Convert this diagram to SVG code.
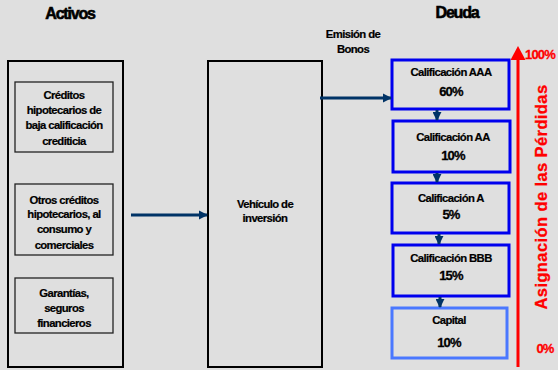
<svg xmlns="http://www.w3.org/2000/svg" width="558" height="370" viewBox="0 0 558 370">
<defs>
<marker id="ah" viewBox="0 0 10 10" refX="9" refY="5" markerWidth="3" markerHeight="3.3" orient="auto" markerUnits="strokeWidth">
<path d="M0,0 L10,5 L0,10 z" fill="#003366"/>
</marker>
<marker id="ahs" viewBox="0 0 10 10" refX="9" refY="5" markerWidth="3" markerHeight="3" orient="auto" markerUnits="strokeWidth">
<path d="M0,0 L10,5 L0,10 z" fill="#003366"/>
</marker>
</defs>
<style>
.t{font-family:"Liberation Sans",Arial,sans-serif;font-weight:bold;fill:#000;text-anchor:middle;letter-spacing:-0.6px;stroke:#000;stroke-width:0.2px}
.s{font-size:11.3px}
.h{font-size:16px;letter-spacing:-1.2px;stroke-width:0.6px}
.p{font-size:13px;letter-spacing:-0.8px;stroke-width:0.3px}
.box{fill:none;stroke:#000;stroke-width:2}
.ibox{fill:none;stroke:#222;stroke-width:1.3}
.tr{fill:none;stroke:#0000ee;stroke-width:3}
.cap{fill:none;stroke:#4a78ff;stroke-width:3}
.con{stroke:#003366;stroke-width:3;fill:none}
.sm{stroke:#003366;stroke-width:3;fill:none}
.red{font-family:"Liberation Sans",Arial,sans-serif;font-weight:bold;fill:#ff0000;stroke:#ff0000;stroke-width:0.3px;text-anchor:middle}
</style>
<rect width="558" height="370" fill="#dfdfdf"/>

<text class="t h" x="70" y="19">Activos</text>
<text class="t h" x="457" y="18">Deuda</text>

<g id="activos">
<rect class="box" x="8" y="61" width="115" height="306"/>
</g>
<g id="creditos-baja">
<rect class="ibox" x="15" y="82" width="98" height="70"/>
<text class="t s"><tspan x="64" y="99">Créditos</tspan><tspan x="64" y="114">hipotecarios de</tspan><tspan x="64" y="129">baja calificación</tspan><tspan x="64" y="145">crediticia</tspan></text>
</g>
<g id="otros-creditos">
<rect class="ibox" x="15" y="184" width="98" height="71"/>
<text class="t s"><tspan x="64" y="204">Otros créditos</tspan><tspan x="64" y="218">hipotecarios, al</tspan><tspan x="64" y="233">consumo y</tspan><tspan x="64" y="249">comerciales</tspan></text>
</g>
<g id="garantias">
<rect class="ibox" x="15" y="278" width="98" height="55"/>
<text class="t s"><tspan x="64" y="297">Garantías,</tspan><tspan x="64" y="312">seguros</tspan><tspan x="64" y="327">financieros</tspan></text>
</g>

<g id="vehiculo">
<rect class="box" x="208" y="61" width="114" height="306"/>
<text class="t s"><tspan x="265" y="208">Vehículo de</tspan><tspan x="265" y="222">inversión</tspan></text>
</g>

<text class="t s" x="353" y="38">Emisión de</text>
<text class="t s" x="353" y="53">Bonos</text>

<g id="aaa">
<rect class="tr" x="392" y="60" width="117" height="49"/>
<text class="t s" x="451" y="76">Calificación AAA</text>
<text class="t p" x="451" y="96">60%</text>
</g>
<g id="aa">
<rect class="tr" x="393" y="121" width="117" height="51"/>
<text class="t s" x="453" y="141">Calificación AA</text>
<text class="t p" x="453" y="160">10%</text>
</g>
<g id="a">
<rect class="tr" x="392" y="183" width="117" height="50"/>
<text class="t s" x="451" y="202">Calificación A</text>
<text class="t p" x="451" y="219">5%</text>
</g>
<g id="bbb">
<rect class="tr" x="393" y="245" width="116" height="51"/>
<text class="t s" x="451" y="262">Calificación BBB</text>
<text class="t p" x="451" y="280">15%</text>
</g>
<g id="capital">
<rect class="cap" x="392" y="308" width="115" height="50"/>
<text class="t s" x="449" y="324">Capital</text>
<text class="t p" x="449" y="347">10%</text>
</g>

<g id="connectors">
<line class="con" x1="131" y1="215" x2="207" y2="215" marker-end="url(#ah)"/>
<line class="con" x1="320" y1="98" x2="391" y2="98" marker-end="url(#ah)"/>
<line class="sm" x1="437" y1="110" x2="437" y2="120" marker-end="url(#ahs)"/>
<line class="sm" x1="437" y1="173" x2="437" y2="182" marker-end="url(#ahs)"/>
<line class="sm" x1="439" y1="234" x2="439" y2="244" marker-end="url(#ahs)"/>
<line class="sm" x1="440" y1="297" x2="440" y2="307" marker-end="url(#ahs)"/>
</g>

<g id="perdidas">
<line x1="518" y1="58" x2="518" y2="367" stroke="#ff0000" stroke-width="3"/>
<path d="M510.5,60 L518,46 L525.5,60 z" fill="#ff0000"/>
<text class="red" x="540" y="59" font-size="13" letter-spacing="-0.8">100%</text>
<text class="red" x="545" y="353" font-size="13" letter-spacing="-0.8">0%</text>
<text class="red" transform="translate(547,197) rotate(-90)" x="0" y="0" font-size="16.5" letter-spacing="0.4">Asignación de las Pérdidas</text>
</g>
</svg>
